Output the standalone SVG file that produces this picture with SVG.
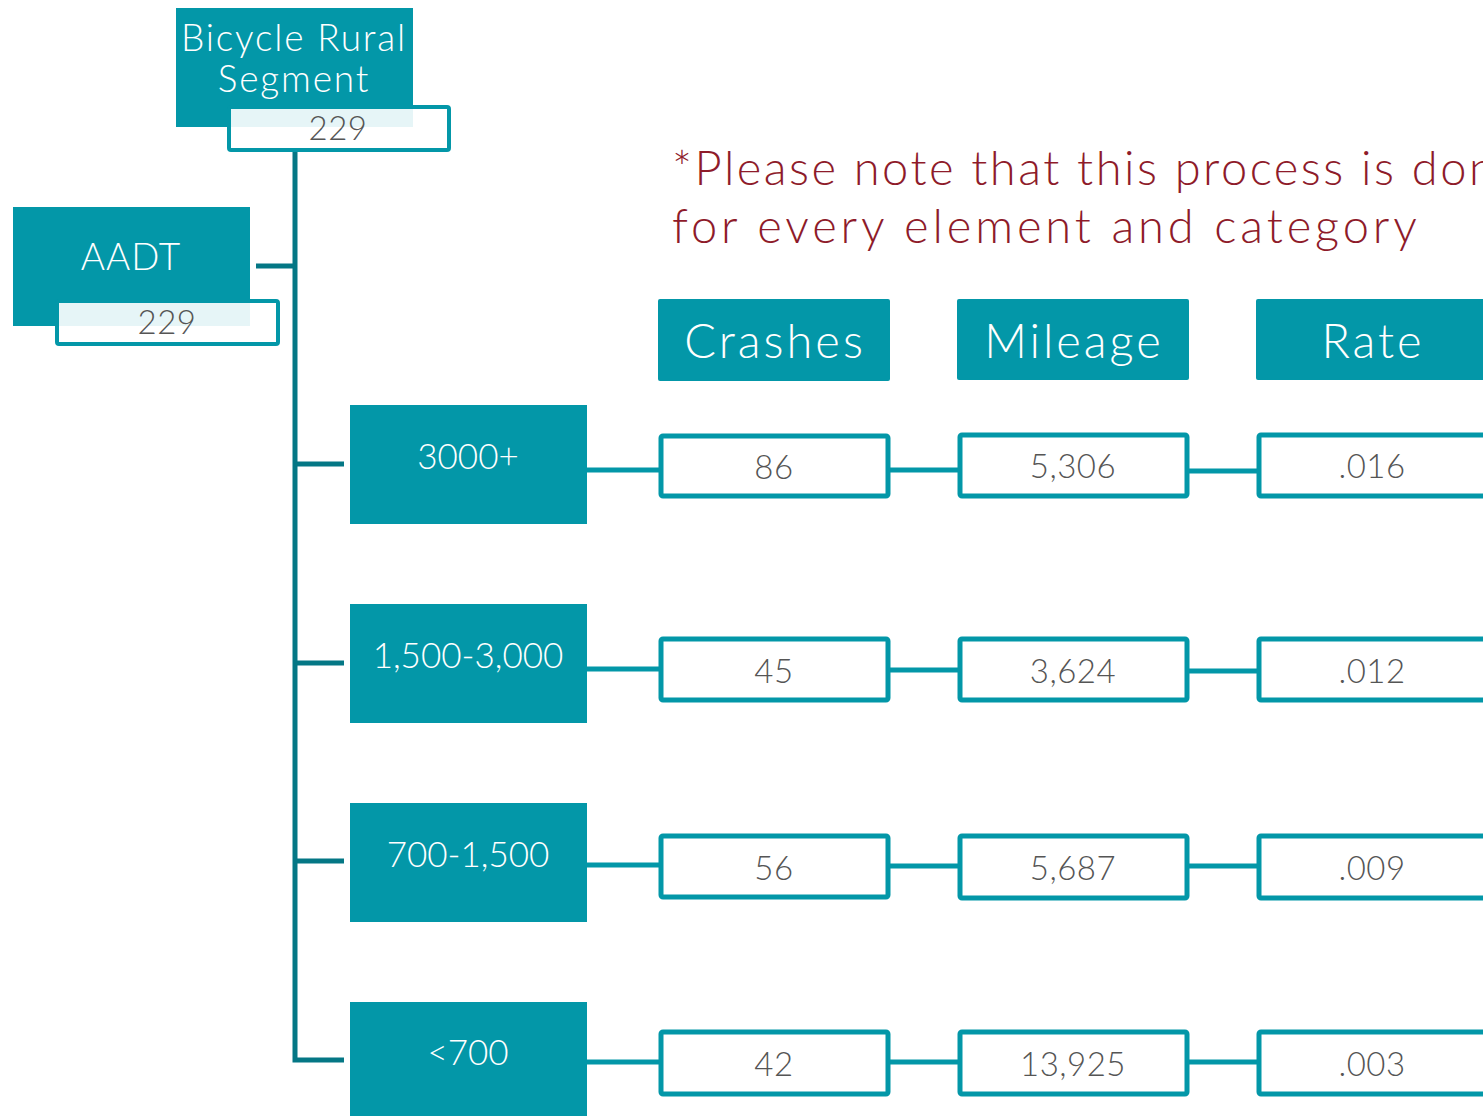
<svg xmlns="http://www.w3.org/2000/svg" width="1483" height="1116" viewBox="0 0 1483 1116">
<style>
.tb{fill:#0397A8;}
.val{fill:#fff;stroke:#0397A8;stroke-width:5;}
.sub{fill:#fff;fill-opacity:0.9;stroke:#0397A8;stroke-width:4;}
.wt{fill:#fff;font-family:Lato,"Liberation Sans",sans-serif;font-weight:300;text-anchor:middle;}
.hd{font-size:47px;letter-spacing:3px;}
.gt{fill:#555;font-family:Lato,"Liberation Sans",sans-serif;font-weight:300;text-anchor:middle;font-size:33px;letter-spacing:0.5px;}
.tree{stroke:#047785;stroke-width:5;fill:none;}
.link{stroke:#0397A8;stroke-width:5;fill:none;}
.note{fill:#8E1B2A;font-family:Lato,"Liberation Sans",sans-serif;font-weight:300;font-size:47px;}
</style>
<rect width="1483" height="1116" fill="#fff"/>
<g id="connectors">
<path class="tree" d="M295,150 V1060 H344"/>
<path class="tree" d="M256,266 H295 M295,464 H344 M295,663 H344 M295,861 H344"/>
<path class="link" d="M587,470 H660 M888,470 H959 M1187,471 H1258"/>
<path class="link" d="M587,669 H660 M888,670 H959 M1187,671 H1258"/>
<path class="link" d="M587,865 H660 M888,866 H959 M1187,866 H1258"/>
<path class="link" d="M587,1062 H660 M888,1062 H959 M1187,1062 H1258"/>
</g>
<g id="root">
<rect class="tb" x="176" y="8" width="237" height="119"/>
<text class="wt" x="294" y="51" font-size="37" letter-spacing="1.8">Bicycle Rural</text>
<text class="wt" x="294" y="92" font-size="37" letter-spacing="1.8">Segment</text>
<rect class="sub" x="229" y="107" width="220" height="43" rx="2"/>
<text class="gt" x="338" y="140">229</text>
</g>
<g id="aadt">
<rect class="tb" x="13" y="207" width="237" height="119"/>
<text class="wt" x="131" y="270" font-size="37" letter-spacing="1">AADT</text>
<rect class="sub" x="57" y="301" width="221" height="43" rx="2"/>
<text class="gt" x="167" y="334">229</text>
</g>
<g id="note">
<text class="note" x="672" y="185" letter-spacing="2.5">*Please note that this process is done</text>
<text class="note" x="672" y="243" letter-spacing="3.9">for every element and category</text>
</g>
<g id="hdr-crashes"><rect class="tb" x="658" y="299" width="232" height="82" rx="2"/><text class="wt hd" x="775" y="358">Crashes</text></g>
<g id="hdr-mileage"><rect class="tb" x="957" y="299" width="232" height="81" rx="2"/><text class="wt hd" x="1074" y="358">Mileage</text></g>
<g id="hdr-rate"><rect class="tb" x="1256" y="299" width="240" height="81" rx="2"/><text class="wt hd" x="1373" y="358">Rate</text></g>
<g id="cat-3000"><rect class="tb" x="350" y="405" width="237" height="119"/><text class="wt" x="468" y="469" font-size="35">3000+</text></g>
<g id="cat-1500"><rect class="tb" x="350" y="604" width="237" height="119"/><text class="wt" x="468" y="668" font-size="35">1,500-3,000</text></g>
<g id="cat-700"><rect class="tb" x="350" y="803" width="237" height="119"/><text class="wt" x="468" y="867" font-size="35">700-1,500</text></g>
<g id="cat-lt700"><rect class="tb" x="350" y="1002" width="237" height="119"/><text class="wt" x="468" y="1065" font-size="35">&lt;700</text></g>
<g id="r1c"><rect class="val" x="661" y="436" width="227" height="60" rx="2"/><text class="gt" x="774" y="479">86</text></g>
<g id="r1m"><rect class="val" x="960" y="435" width="227" height="61" rx="2"/><text class="gt" x="1073" y="478">5,306</text></g>
<g id="r1r"><rect class="val" x="1259" y="435" width="240" height="61" rx="2"/><text class="gt" x="1372" y="478">.016</text></g>
<g id="r2c"><rect class="val" x="661" y="639" width="227" height="61" rx="2"/><text class="gt" x="774" y="683">45</text></g>
<g id="r2m"><rect class="val" x="960" y="639" width="227" height="61" rx="2"/><text class="gt" x="1073" y="683">3,624</text></g>
<g id="r2r"><rect class="val" x="1259" y="639" width="240" height="61" rx="2"/><text class="gt" x="1372" y="683">.012</text></g>
<g id="r3c"><rect class="val" x="661" y="836" width="227" height="61" rx="2"/><text class="gt" x="774" y="880">56</text></g>
<g id="r3m"><rect class="val" x="960" y="836" width="227" height="62" rx="2"/><text class="gt" x="1073" y="880">5,687</text></g>
<g id="r3r"><rect class="val" x="1259" y="836" width="240" height="62" rx="2"/><text class="gt" x="1372" y="880">.009</text></g>
<g id="r4c"><rect class="val" x="661" y="1032" width="227" height="62" rx="2"/><text class="gt" x="774" y="1076">42</text></g>
<g id="r4m"><rect class="val" x="960" y="1032" width="227" height="62" rx="2"/><text class="gt" x="1073" y="1076">13,925</text></g>
<g id="r4r"><rect class="val" x="1259" y="1032" width="240" height="62" rx="2"/><text class="gt" x="1372" y="1076">.003</text></g>
</svg>
